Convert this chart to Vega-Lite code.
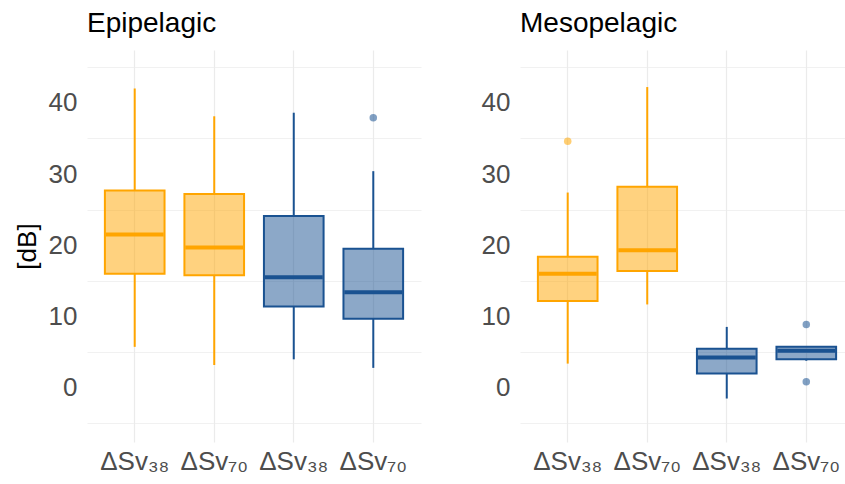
{
  "$schema": "https://vega.github.io/schema/vega-lite/v6.json",
  "padding": {"left": 14, "top": 10, "right": 0, "bottom": 0},
  "background": "white",
  "data": {"values": [
    {"zone": "Epipelagic", "type": "box", "k": "1", "grp": "o", "lower": 5.75, "q1": 16.0, "median": 21.5, "q3": 27.7, "upper": 42.0},
    {"zone": "Epipelagic", "type": "box", "k": "2", "grp": "o", "lower": 3.2, "q1": 15.8, "median": 19.7, "q3": 27.2, "upper": 38.1},
    {"zone": "Epipelagic", "type": "box", "k": "3", "grp": "b", "lower": 4.0, "q1": 11.4, "median": 15.5, "q3": 24.1, "upper": 38.6},
    {"zone": "Epipelagic", "type": "box", "k": "4", "grp": "b", "lower": 2.8, "q1": 9.7, "median": 13.4, "q3": 19.5, "upper": 30.4},
    {"zone": "Epipelagic", "type": "out", "k": "4", "grp": "b", "value": 37.9},
    {"zone": "Mesopelagic", "type": "box", "k": "1", "grp": "o", "lower": 3.4, "q1": 12.2, "median": 16.0, "q3": 18.4, "upper": 27.4},
    {"zone": "Mesopelagic", "type": "box", "k": "2", "grp": "o", "lower": 11.7, "q1": 16.4, "median": 19.3, "q3": 28.2, "upper": 42.2},
    {"zone": "Mesopelagic", "type": "box", "k": "3", "grp": "b", "lower": -1.5, "q1": 2.0, "median": 4.25, "q3": 5.5, "upper": 8.55},
    {"zone": "Mesopelagic", "type": "box", "k": "4", "grp": "b", "lower": 3.8, "q1": 4.0, "median": 5.2, "q3": 5.75, "upper": 5.75},
    {"zone": "Mesopelagic", "type": "out", "k": "1", "grp": "o", "value": 34.6},
    {"zone": "Mesopelagic", "type": "out", "k": "4", "grp": "b", "value": 8.9},
    {"zone": "Mesopelagic", "type": "out", "k": "4", "grp": "b", "value": 0.85}
  ]},
  "config": {
    "view": {"stroke": null},
    "font": "Liberation Sans",
    "axis": {
      "domain": false,
      "ticks": false,
      "gridColor": "#ebebeb",
      "labelColor": "#4d4d4d",
      "labelFontSize": 26,
      "labelFont": "Liberation Sans",
      "titleFont": "Liberation Sans",
      "titleFontSize": 26,
      "titleFontWeight": "normal",
      "titleColor": "#000000",
      "labelOverlap": false
    },
    "title": {"fontSize": 28, "fontWeight": "normal", "color": "#000000", "font": "Liberation Sans", "anchor": "start", "frame": "group", "offset": 12}
  },
  "spacing": 60,
  "hconcat": [
    {
      "title": "Epipelagic",
      "width": 334,
      "height": 392,
      "transform": [{"filter": "datum.zone === 'Epipelagic'"}],
      "encoding": {
        "x": {"field": "k", "type": "nominal", "title": null,
          "scale": {"domain": ["1", "2", "3", "4"], "paddingInner": 0, "paddingOuter": 0.1},
          "axis": {"grid": true, "gridWidth": 1.2, "bandPosition": 0.5, "labelAngle": 0, "labelPadding": 6,
            "labelExpr": "datum.value == '1' || datum.value == '3' ? 'ΔSv₃₈' : 'ΔSv₇₀'"}},
        "color": {"field": "grp", "type": "nominal", "scale": {"domain": ["o", "b"], "range": ["#FFA500", "#1A5291"]}, "legend": null}
      },
      "resolve": {"axis": {"y": "independent"}},
      "layer": [
        {"transform": [{"filter": "datum.type === 'box'"}], "mark": {"type": "rule", "strokeWidth": 2},
          "encoding": {"y": {"field": "lower", "type": "quantitative",
            "scale": {"domain": [-7.6, 47.4], "nice": false, "zero": false},
            "axis": {"orient": "left", "values": [-5, 5, 15, 25, 35, 45], "labels": false, "title": null, "gridWidth": 0.7}},
            "y2": {"field": "q1"}}},
        {"transform": [{"filter": "datum.type === 'box'"}], "mark": {"type": "rule", "strokeWidth": 2},
          "encoding": {"y": {"field": "q3", "type": "quantitative",
            "axis": {"orient": "left", "values": [0, 10, 20, 30, 40], "title": "[dB]", "gridWidth": 1.3, "labelPadding": 10, "titlePadding": 8}},
            "y2": {"field": "upper"}}},
        {"transform": [{"filter": "datum.type === 'box'"}], "mark": {"type": "bar", "width": {"band": 0.75}, "fillOpacity": 0.5, "strokeWidth": 2},
          "encoding": {"y": {"field": "q1", "type": "quantitative", "axis": null}, "y2": {"field": "q3"},
            "stroke": {"field": "grp", "type": "nominal", "scale": {"domain": ["o", "b"], "range": ["#FFA500", "#1A5291"]}, "legend": null}}},
        {"transform": [{"filter": "datum.type === 'box'"}], "mark": {"type": "tick", "size": 58, "thickness": 4, "opacity": 1},
          "encoding": {"y": {"field": "median", "type": "quantitative", "axis": null}}},
        {"transform": [{"filter": "datum.type === 'out'"}], "mark": {"type": "circle", "size": 56, "opacity": 0.55},
          "encoding": {"y": {"field": "value", "type": "quantitative", "axis": null}}}
      ]
    },
    {
      "title": "Mesopelagic",
      "width": 334,
      "height": 392,
      "transform": [{"filter": "datum.zone === 'Mesopelagic'"}],
      "encoding": {
        "x": {"field": "k", "type": "nominal", "title": null,
          "scale": {"domain": ["1", "2", "3", "4"], "paddingInner": 0, "paddingOuter": 0.1},
          "axis": {"grid": true, "gridWidth": 1.2, "bandPosition": 0.5, "labelAngle": 0, "labelPadding": 6,
            "labelExpr": "datum.value == '1' || datum.value == '3' ? 'ΔSv₃₈' : 'ΔSv₇₀'"}},
        "color": {"field": "grp", "type": "nominal", "scale": {"domain": ["o", "b"], "range": ["#FFA500", "#1A5291"]}, "legend": null}
      },
      "resolve": {"axis": {"y": "independent"}},
      "layer": [
        {"transform": [{"filter": "datum.type === 'box'"}], "mark": {"type": "rule", "strokeWidth": 2},
          "encoding": {"y": {"field": "lower", "type": "quantitative",
            "scale": {"domain": [-7.6, 47.4], "nice": false, "zero": false},
            "axis": {"orient": "left", "values": [-5, 5, 15, 25, 35, 45], "labels": false, "title": null, "gridWidth": 0.7}},
            "y2": {"field": "q1"}}},
        {"transform": [{"filter": "datum.type === 'box'"}], "mark": {"type": "rule", "strokeWidth": 2},
          "encoding": {"y": {"field": "q3", "type": "quantitative",
            "axis": {"orient": "left", "values": [0, 10, 20, 30, 40], "title": null, "gridWidth": 1.3, "labelPadding": 10}},
            "y2": {"field": "upper"}}},
        {"transform": [{"filter": "datum.type === 'box'"}], "mark": {"type": "bar", "width": {"band": 0.75}, "fillOpacity": 0.5, "strokeWidth": 2},
          "encoding": {"y": {"field": "q1", "type": "quantitative", "axis": null}, "y2": {"field": "q3"},
            "stroke": {"field": "grp", "type": "nominal", "scale": {"domain": ["o", "b"], "range": ["#FFA500", "#1A5291"]}, "legend": null}}},
        {"transform": [{"filter": "datum.type === 'box'"}], "mark": {"type": "tick", "size": 58, "thickness": 4, "opacity": 1},
          "encoding": {"y": {"field": "median", "type": "quantitative", "axis": null}}},
        {"transform": [{"filter": "datum.type === 'out'"}], "mark": {"type": "circle", "size": 56, "opacity": 0.55},
          "encoding": {"y": {"field": "value", "type": "quantitative", "axis": null}}}
      ]
    }
  ]
}
